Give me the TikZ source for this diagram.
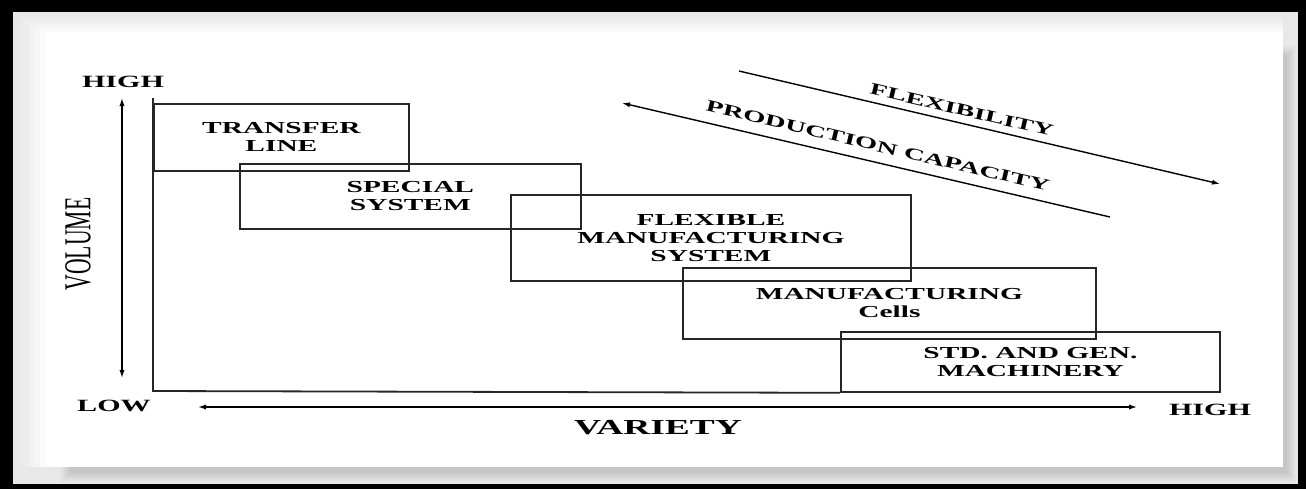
\documentclass[tikz,border=0pt]{standalone}
\usepackage{fontspec}
\setmainfont{Liberation Serif}
\newfontfamily\widefont[FakeStretch=1.75]{Liberation Serif}
\newfontfamily\narrowfont[FakeStretch=0.57]{Liberation Serif}
\usetikzlibrary{arrows.meta}

\begin{document}
\begin{tikzpicture}[x=0.5pt,y=-0.5pt,
  stage/.style={draw=black!85,line width=0.9pt,align=center,inner sep=0pt,anchor=north west,
    font=\widefont\bfseries\fontsize{8.4}{9}\selectfont},
  axisline/.style={draw=black!85,line width=0.9pt},
  twoway/.style={line width=0.7pt,{Latex[length=4pt,width=2.6pt]}-{Latex[length=4pt,width=2.6pt]}},
  oneway/.style={line width=0.7pt,-{Latex[length=4pt,width=2.6pt]}},
  tag/.style={font=\widefont\bfseries\fontsize{8.6}{9}\selectfont},
  slant/.style={font=\widefont\bfseries\fontsize{8.2}{9}\selectfont,rotate=-13.2}]
\useasboundingbox (0,0) rectangle (1306,489);

% frame and card
\fill[black] (0,0) rectangle (1306,489);
\fill[gray!18] (13,12) rectangle (1298,484);
\foreach \k in {0,...,5} {
  \pgfmathsetmacro\g{int(20+5*\k)}
  \fill[gray!\g] (60+2*\k,45+2*\k) rectangle (1297-2*\k,483-2*\k);
}
\foreach \k in {0,...,5} {
  \pgfmathsetmacro\g{int(16-3*\k)}
  \fill[gray!\g] (20+5*\k,17+3*\k) rectangle (1283,467);
}
\fill[white] (48,33) rectangle (1283,467);

% boxes
\node[stage,minimum width=127.5pt,minimum height=33.5pt] (transfer) at (153,103) {TRANSFER\\LINE};
\node[stage,minimum width=170.5pt,minimum height=32.5pt] (special) at (239,163) {SPECIAL\\SYSTEM};
\node[stage,minimum width=200pt,minimum height=43pt] (fms) at (510,194) {FLEXIBLE\\MANUFACTURING\\SYSTEM};
\node[stage,minimum width=206.5pt,minimum height=35.5pt] (cells) at (682,267) {MANUFACTURING\\Cells};
\node[stage,minimum width=189.5pt,minimum height=30pt] (std) at (840,331) {STD. AND GEN.\\MACHINERY};

% axes
\coordinate (ytop) at (153,98);
\coordinate (origin) at (153,391);
\draw[axisline] (ytop) -- (origin) -- (std.south west);

\coordinate (vtop) at (122,98);
\coordinate (vbot) at (122,378);
\draw[twoway] (vtop) -- (vbot);
\coordinate (hleft) at (198,407);
\coordinate (hright) at (1137,407);
\draw[twoway] (hleft) -- (hright);

\node[tag] (highv) at (123,82) {HIGH};
\node[tag] (low) at (114,406) {LOW};
\node[tag] (highh) at (1210,410) {HIGH};
\node[font=\widefont\bfseries\fontsize{10.7}{11}\selectfont] (variety) at (658,428) {VARIETY};
\node[font=\narrowfont\fontsize{19}{19}\selectfont,rotate=90] (volume) at (78,244) {VOLUME};

% trends
\coordinate (flexA) at (739,71);
\coordinate (flexB) at (1220,184);
\draw[oneway] (flexA) -- (flexB);
\coordinate (capA) at (1110,217);
\coordinate (capB) at (622,103);
\draw[oneway] (capA) -- (capB);
\node[slant] (flex) at (962,110) {FLEXIBILITY};
\node[slant] (cap) at (878,146) {PRODUCTION CAPACITY};
\end{tikzpicture}
\end{document}
